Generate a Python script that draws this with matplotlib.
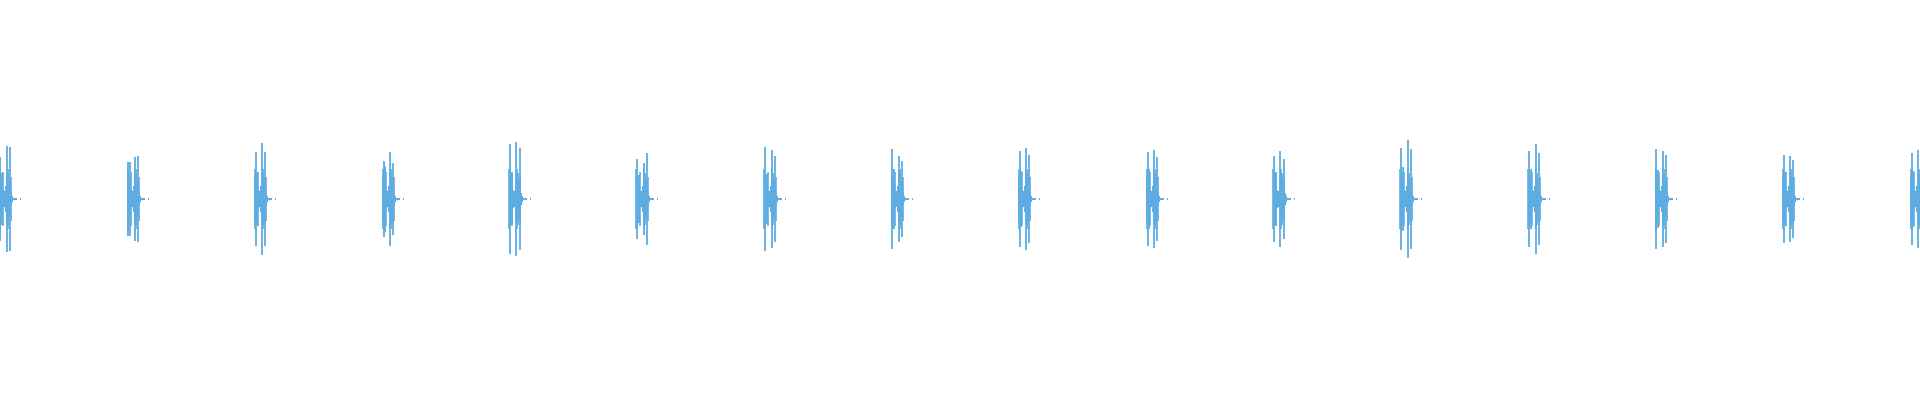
import matplotlib
matplotlib.use("Agg")
import matplotlib.pyplot as plt
import numpy as np

# ---- data ----
# start of each beat (ms), 1 px in the picture ~ 6.25 ms
beat_start_ms = [-6, 794, 1588, 2388, 3181, 3975, 4775, 5569,
                 6363, 7163, 7956, 8750, 9550, 10344, 11138, 11938]

# tall spike peaks per beat (amplitude units)
s1a_peak = [42, 37, 47, 38, 55, 40, 52, 50, 48, 47, 43, 51, 48, 50, 44, 46]
s1b_peak = [26, 37, 26, 33, 25, 24, 25, 30, 28, 30, 27, 32, 30, 29, 27, 28]
s2a_peak = [53, 42, 56, 47, 57, 36, 49, 43, 51, 49, 48, 59, 55, 48, 43, 49]
s2b_peak = [52, 43, 47, 36, 51, 46, 43, 38, 44, 42, 40, 50, 46, 44, 39, 44]

# spike positions inside a beat (ms from beat start)
s1a_offset_ms = 9
s1b_offset_ms = 16
s2a_offset_ms = 47
s2b_offset_ms = 66

# medium spikes shared by all beats (ms offset, half-height)
mid_offset_ms = [3, 22, 53, 59, 72]
mid_half = [30, 27, 30, 26, 22]

# body envelope of a beat (ms offset, half-height)
body_offset_ms = [0, 6, 12, 19, 25, 31, 37, 44, 50, 56, 62, 69, 75, 81, 87, 94]
body_half = [22, 27, 24, 15, 9, 8, 13, 25, 22, 20, 18, 13, 6, 3, 1, 0]

# faint tail dashes after each beat (ms offset start, end)
tail_dashes_ms = [(88, 112), (131, 138), (160, 164)]

COLOR = "#5dade2"


def draw_beat(ax, t0, p1a, p1b, p2a, p2b):
    """Draw one heart-sound beat: body envelope plus tall spikes."""
    t = t0 + np.array(body_offset_ms)
    h = np.array(body_half)
    ax.fill_between(t, -h, h, step="post", color=COLOR, linewidth=0)

    mt = t0 + np.array(mid_offset_ms)
    mh = np.array(mid_half)
    ax.vlines(mt, -mh, mh, color=COLOR, linewidth=1.2)

    spike_t = [t0 + s1a_offset_ms, t0 + s1b_offset_ms,
               t0 + s2a_offset_ms, t0 + s2b_offset_ms]
    spike_h = [p1a, p1b, p2a, p2b]
    ax.vlines(spike_t, [-v for v in spike_h], spike_h, color=COLOR, linewidth=1.3)

    for a, b in tail_dashes_ms:
        ax.plot([t0 + a, t0 + b], [0, 0], color=COLOR, linewidth=1.4,
                solid_capstyle="butt")


def main():
    fig = plt.figure(figsize=(19.2, 4), dpi=100)
    ax = fig.add_axes([0, 0, 1, 1])

    for i, t0 in enumerate(beat_start_ms):
        draw_beat(ax, t0, s1a_peak[i], s1b_peak[i], s2a_peak[i], s2b_peak[i])

    ax.set_xlim(0, 12000)
    ax.set_ylim(-201, 199)
    ax.axis("off")

    fig.savefig("out.png", dpi=100, facecolor="white")


if __name__ == "__main__":
    main()
